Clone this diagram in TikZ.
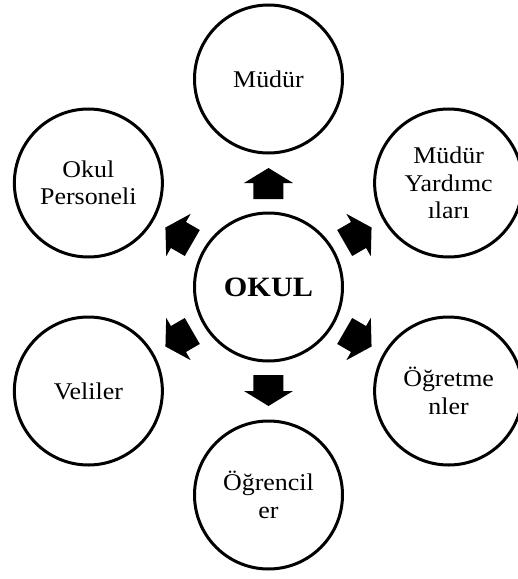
\documentclass[tikz,border=0pt]{standalone}
\usepackage{fontspec}
\setmainfont[FakeStretch=1.08]{Liberation Serif}
\begin{document}
\begin{tikzpicture}[x=1pt,y=1pt,
  bub/.style={circle,draw,line width=3pt,minimum size=148pt,inner sep=0pt,align=center,
    font=\fontsize{24}{27.5}\selectfont},
  blk/.style={fill=black}]
\useasboundingbox (-268.5,-292) rectangle (249.5,287);
\node[bub,font=\fontsize{28}{30}\selectfont\bfseries] (c) at (0,0) {OKUL};
\node[bub] (m) at (90:208) {Müdür};
\node[bub] (my) at (30:208) {Müdür\\Yardımc\\ılar\i};
\node[bub] (og) at (-30:208) {Öğretme\\nler};
\node[bub] (oc) at (-90:208) {Öğrencil\\er};
\node[bub] (v) at (-150:208) {Veliler};
\node[bub] (op) at (150:208) {Okul\\Personeli};
\foreach \a in {90,30,-30,-90,-150,150}
  \fill[blk,shift={(c.center)},rotate=\a]
    (88,-15) -- (104,-15) -- (104,-24.5) -- (119,0) -- (104,24.5) -- (104,15) -- (88,15) -- cycle;
\end{tikzpicture}
\end{document}
